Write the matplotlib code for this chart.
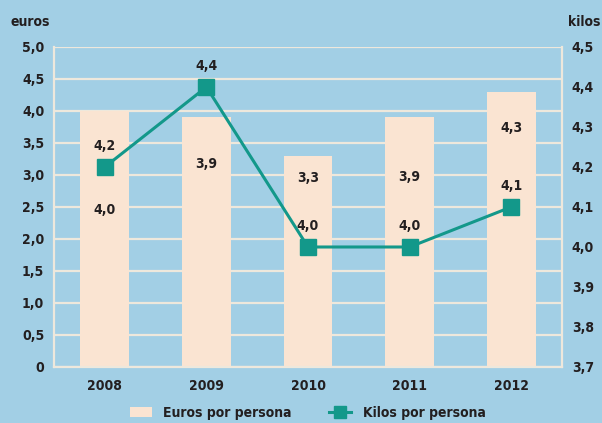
import matplotlib
matplotlib.use("Agg")
import matplotlib.pyplot as plt
from matplotlib.patches import Patch
from matplotlib.lines import Line2D

plt.rcParams['font.family'] = ['DejaVu Sans']
plt.rcParams['font.weight'] = 'bold'
plt.rcParams['font.stretch'] = 'condensed'

years = ['2008', '2009', '2010', '2011', '2012']
euros = [4.0, 3.9, 3.3, 3.9, 4.3]
kilos = [4.2, 4.4, 4.0, 4.0, 4.1]
euro_ticks = [0, 0.5, 1.0, 1.5, 2.0, 2.5, 3.0, 3.5, 4.0, 4.5, 5.0]
kilo_ticks = [3.7, 3.8, 3.9, 4.0, 4.1, 4.2, 4.3, 4.4, 4.5]
# where the euro value labels sit inside the bars (euro axis units)
euro_label_y = [2.45, 3.17, 2.95, 2.97, 3.73]

bg = '#A2CFE5'
bar_col = '#FAE4D2'
line_col = '#13988A'
grid_col = '#EEE8DC'
txt = '#231F20'
fs = 10

def fmt(v):
    return ('%.1f' % v).replace('.', ',') if v != 0 else '0'

fig = plt.figure(figsize=(6.02, 4.23), dpi=100)
fig.patch.set_facecolor(bg)
ax = fig.add_axes([0.0897, 0.1324, 0.8439, 0.7565])
ax.set_facecolor(bg)

x = range(len(years))
ax.bar(x, euros, width=0.48, color=bar_col, zorder=2)
ax.set_xlim(-0.5, 4.5)
ax.set_ylim(0, 5.0)
ax.set_yticks(euro_ticks)
ax.set_yticklabels([fmt(v) for v in euro_ticks])
ax.set_xticks(list(x))
ax.set_xticklabels(years)
ax.yaxis.grid(True, color=grid_col, linewidth=1.6, zorder=0)
ax.set_axisbelow(True)
ax.tick_params(axis='both', length=0, labelsize=fs, colors=txt)
ax.tick_params(axis='y', pad=7)
ax.tick_params(axis='x', pad=9)
for s in ['left', 'bottom']:
    ax.spines[s].set_color(grid_col)
    ax.spines[s].set_linewidth(1.6)
for s in ['top', 'right']:
    ax.spines[s].set_visible(False)

# euro values inside the bars
for i, v in enumerate(euros):
    ax.text(i, euro_label_y[i], fmt(v), ha='center', va='center',
            fontsize=fs, color=txt, zorder=5)

ax2 = ax.twinx()
ax2.patch.set_visible(False)
ax2.plot(list(x), kilos, color=line_col, linewidth=2.2, marker='s',
         markersize=12, zorder=4)
ax2.set_ylim(3.7, 4.5)
ax2.set_yticks(kilo_ticks)
ax2.set_yticklabels([fmt(v) for v in kilo_ticks])
ax2.tick_params(axis='y', length=0, labelsize=fs, colors=txt, pad=7)
for s in ['left', 'bottom', 'top']:
    ax2.spines[s].set_visible(False)
ax2.spines['right'].set_color(grid_col)
ax2.spines['right'].set_linewidth(1.6)

# kilo values above markers
for i, v in enumerate(kilos):
    ax2.annotate(fmt(v), (i, v), xytext=(0, 15), textcoords='offset points',
                 ha='center', va='center', fontsize=fs, color=txt)

fig.text(0.018, 0.948, 'euros', fontsize=fs, color=txt, va='center', ha='left')
fig.text(0.997, 0.948, 'kilos', fontsize=fs, color=txt, va='center', ha='right')

handles = [Patch(facecolor=bar_col, edgecolor='none'),
           Line2D([0], [0], color=line_col, linewidth=2.2, marker='s', markersize=9)]
fig.legend(handles, ['Euros por persona', 'Kilos por persona'], ncol=2,
           loc='center', bbox_to_anchor=(0.511, 0.024), frameon=False,
           fontsize=fs, handlelength=1.6, handletextpad=0.8,
           columnspacing=2.7, labelcolor=txt)

fig.savefig('out.png', dpi=100, facecolor=bg)
